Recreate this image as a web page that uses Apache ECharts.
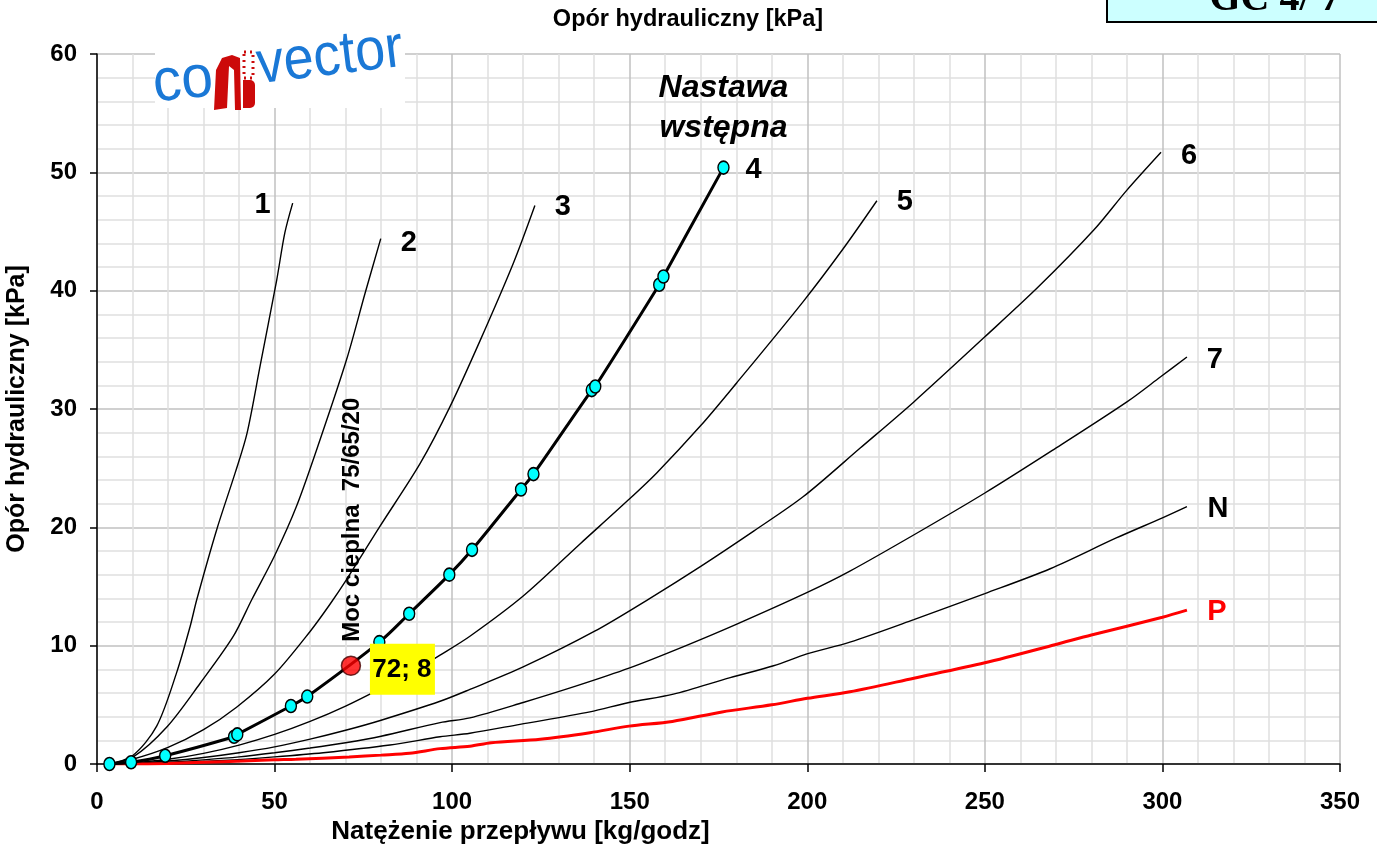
<!DOCTYPE html>
<html><head><meta charset="utf-8">
<script src="https://cdn.jsdelivr.net/npm/echarts@6/dist/echarts.min.js"></script>
<style>html,body{margin:0;padding:0;background:#fff}#c{width:1377px;height:855px}</style>
</head><body><div id="c"></div>
<script>
// ---- data ----
const xTicks = [0, 50, 100, 150, 200, 250, 300, 350];
const yTicks = [0, 10, 20, 30, 40, 50, 60];
const seriesNames = ['1', '2', '3', '4', '5', '6', '7', 'N', 'P'];
const curve1 = [[3,0],[10,0.7],[16.8,3.2],[22.4,7.7],[26.2,11.6],[28.1,13.9],[33.7,19.8],[38.9,24.6],[42.2,27.9],[45.9,33.6],[50.6,40.9],[52.9,44.9],[55.1,47.4]];
const curve2 = [[3,0],[10.2,0.6],[19.6,3.1],[29,6.8],[38.4,10.8],[43.6,13.9],[50,17.6],[56.2,21.8],[62.8,27.4],[70.3,34.2],[75.5,39.8],[79.9,44.4]];
const curve3 = [[3,0],[10,0.4],[20,1.4],[30,2.9],[39.3,4.8],[50,7.6],[60,11.2],[65.6,13.5],[70.3,15.6],[79.7,20.1],[91,25.4],[99.4,30.2],[107.9,35.8],[117.2,42.3],[123.3,47.2]];
const curve4 = [[3.5,0],[9.6,0.15],[19.2,0.7],[38.6,2.3],[39.5,2.5],[54.6,4.9],[59.2,5.7],[79.5,10.3],[87.9,12.7],[99.2,16.0],[105.6,18.1],[119.4,23.2],[122.9,24.5],[139.3,31.6],[140.3,31.9],[158.3,40.5],[159.5,41.2],[176.4,50.4]];
const curve5 = [[3,0],[10,0.1],[20,0.4],[30,0.9],[40,1.6],[50,2.5],[60,3.6],[70,4.9],[80,6.4],[90,8.0],[96.6,9.2],[105,10.8],[120,14.2],[136,18.6],[149.2,22.2],[157.6,24.6],[170,28.6],[180.1,32.2],[198.9,39.1],[210,43.5],[219.6,47.6]];
const curve6 = [[3,0],[10,0.05],[20,0.25],[30,0.55],[40,0.95],[50,1.45],[60,2.1],[70,2.85],[80,3.7],[96.6,5.3],[105,6.3],[120,8.2],[140,11.2],[155.7,14.0],[170,16.7],[185,19.7],[198.9,22.6],[214.9,26.7],[230,30.6],[250,36.1],[265,40.3],[280.6,45.1],[290,48.5],[299.6,51.7]];
const curve7 = [[3,0],[10,0.05],[20,0.15],[30,0.35],[40,0.6],[50,0.95],[60,1.35],[70,1.8],[80,2.35],[96.6,3.5],[105,3.9],[120,5.2],[135,6.6],[149.8,8.1],[165,9.9],[180,11.8],[200,14.5],[212,16.3],[230.8,19.5],[250,22.9],[269,26.5],[290,30.6],[299.4,32.7],[306.9,34.4]];
const curveN = [[3,0],[10,0.03],[20,0.1],[35.5,0.3],[50,0.6],[63.7,0.95],[82.5,1.6],[96.6,2.3],[105,2.6],[119.1,3.35],[138.8,4.4],[149.8,5.2],[162.3,5.9],[178.3,7.3],[190.5,8.3],[199.9,9.3],[212,10.3],[230,12.2],[250,14.4],[268.4,16.5],[287,19.1],[300,20.8],[306.9,21.75]];
const curveP = [[3,0],[10,0],[20,0.05],[35.5,0.2],[50,0.35],[56,0.4],[71,0.6],[80,0.75],[88,0.9],[96.6,1.3],[105,1.5],[111,1.8],[124.8,2.1],[138.8,2.65],[149.8,3.2],[162,3.6],[176,4.4],[190,5.0],[200,5.55],[212,6.1],[230,7.25],[250,8.55],[270,10.1],[280,10.9],[300,12.4],[306.9,13.0]];
const designPoint = [71.5, 8.3];
const designLabel = '72; 8';
const designText = 'Moc cieplna  75/65/20';
const presetText = ['Nastawa', 'wstępna'];

const FONT = '"Liberation Sans", Arial, sans-serif';
const curves = [curve1, curve2, curve3, curve4, curve5, curve6, curve7, curveN, curveP];

const series = curves.map((d, i) => {
  const name = seriesNames[i];
  const isP = name === 'P', is4 = name === '4';
  return {
    name, type: 'line', data: d, smooth: 0.3,
    showSymbol: is4, symbol: 'circle', symbolSize: [11, 13],
    itemStyle: {color: '#00ffff', borderColor: '#000', borderWidth: 1.5},
    lineStyle: {color: isP ? '#ff0000' : '#000', width: (isP || is4) ? 3 : 1.4},
    z: is4 ? 5 : 3, silent: true, animation: false
  };
});
series.push({
  name: 'design', type: 'scatter', data: [designPoint], symbolSize: 19,
  itemStyle: {color: '#ff0000', borderColor: '#400', borderWidth: 1.5}, z: 6, animation: false
});

const chart = echarts.init(document.getElementById('c'));
const option = {
  animation: false,
  grid: {left: 97, right: 37, top: 54, bottom: 91, containLabel: false, outerBoundsMode: 'none'},
  xAxis: {
    type: 'value', min: xTicks[0], max: xTicks[xTicks.length - 1], interval: 50,
    axisLine: {show: true, onZero: false, lineStyle: {color: '#000', width: 1.5}},
    axisTick: {show: true, length: 8, lineStyle: {color: '#000', width: 1.5}},
    minorTick: {show: false, splitNumber: 5},
    axisLabel: {color: '#000', fontFamily: FONT, fontWeight: 'bold', fontSize: 24, margin: 26},
    splitLine: {show: true, lineStyle: {color: '#c0c0c0', width: 1.5}},
    minorSplitLine: {show: true, lineStyle: {color: '#e0e0e0', width: 1.5}},
    name: 'Natężenie przepływu [kg/godz]', nameLocation: 'middle', nameGap: 54,
    nameTextStyle: {color: '#000', fontFamily: FONT, fontWeight: 'bold', fontSize: 26, padding: [0, 396, 0, 0]}
  },
  yAxis: {
    type: 'value', min: yTicks[0], max: yTicks[yTicks.length - 1], interval: 10,
    axisLine: {show: true, onZero: false, lineStyle: {color: '#000', width: 1.5}},
    axisTick: {show: true, length: 7, lineStyle: {color: '#000', width: 1.5}},
    minorTick: {show: false, splitNumber: 5},
    axisLabel: {color: '#000', fontFamily: FONT, fontWeight: 'bold', fontSize: 24, margin: 20},
    splitLine: {show: true, lineStyle: {color: '#c0c0c0', width: 1.5}},
    minorSplitLine: {show: true, lineStyle: {color: '#e0e0e0', width: 1.5}},
    name: 'Opór hydrauliczny [kPa]', nameLocation: 'middle', nameGap: 67, nameRotate: 90,
    nameTextStyle: {color: '#000', fontFamily: FONT, fontWeight: 'bold', fontSize: 25}
  },
  series
};
chart.setOption(option);

// ---- annotations positioned from data points ----
const labelOffsets = {'1': [-30, 2], '2': [28, 4], '3': [28, 2], '4': [30, 2], '5': [28, 1], '6': [28, 4], '7': [28, 3], 'N': [31, 2], 'P': [30, 2]};
const g = [];
curves.forEach((d, i) => {
  const name = seriesNames[i];
  const p = chart.convertToPixel({gridIndex: 0}, d[d.length - 1]);
  const o = labelOffsets[name];
  g.push({type: 'text', x: p[0] + o[0], y: p[1] + o[1], z: 20,
    style: {text: name, fill: name === 'P' ? '#ff0000' : '#000', font: 'bold 29px ' + FONT, align: 'center', verticalAlign: 'middle'}});
});
const end4 = chart.convertToPixel({gridIndex: 0}, curve4[curve4.length - 1]);
g.push({type: 'text', x: end4[0], y: end4[1] - 79, z: 20,
  style: {text: presetText[0], fill: '#000', font: 'italic bold 32px ' + FONT, align: 'center', verticalAlign: 'middle'}});
g.push({type: 'text', x: end4[0], y: end4[1] - 39, z: 20,
  style: {text: presetText[1], fill: '#000', font: 'italic bold 32px ' + FONT, align: 'center', verticalAlign: 'middle'}});
const dp = chart.convertToPixel({gridIndex: 0}, designPoint);
g.push({type: 'rect', shape: {x: dp[0] + 19, y: dp[1] - 22, width: 65, height: 51}, style: {fill: '#ffff00'}, z: 18});
g.push({type: 'text', x: dp[0] + 51, y: dp[1] + 4, z: 20,
  style: {text: designLabel, fill: '#000', font: 'bold 26px ' + FONT, align: 'center', verticalAlign: 'middle'}});
g.push({type: 'text', x: dp[0] + 1, y: dp[1] - 146, rotation: Math.PI / 2, z: 20,
  style: {text: designText, fill: '#000', font: 'bold 24px ' + FONT, align: 'center', verticalAlign: 'middle'}});

// title
g.push({type: 'text', x: 688, y: 20, z: 20,
  style: {text: 'Opór hydrauliczny [kPa]', fill: '#000', font: 'bold 23.5px ' + FONT, align: 'center', verticalAlign: 'middle'}});
// GC box
g.push({type: 'rect', shape: {x: 1107, y: -40, width: 300, height: 62}, style: {fill: '#ccffff', stroke: '#000', lineWidth: 2}, z: 20});
g.push({type: 'text', x: 1275, y: 0, z: 21,
  style: {text: 'GC 4/ 7', fill: '#000', font: 'bold 40px "Liberation Serif", "Times New Roman", serif', align: 'center', verticalAlign: 'middle'}});
// logo
g.push({type: 'rect', shape: {x: 155, y: 22, width: 250, height: 86}, style: {fill: '#fff'}, z: 15});
g.push({type: 'text', x: 183, y: 82, rotation: 0.1, scaleX: 0.95, z: 16,
  style: {text: 'co', fill: '#1a78d6', font: '60px "Liberation Sans", Arial, sans-serif', align: 'center', verticalAlign: 'middle'}});
g.push({type: 'polygon', shape: {points: [[214, 110], [216, 70], [222, 58], [232, 55], [240, 58], [241, 110], [235, 110], [234, 70], [229, 66], [227, 108]]}, style: {fill: '#cc0a0a'}, z: 16});
g.push({type: 'rect', shape: {x: 243, y: 80, width: 12, height: 28, r: [0, 5, 5, 0]}, style: {fill: '#cc0a0a'}, z: 16});
g.push({type: 'rect', shape: {x: 244, y: 52, width: 9, height: 26}, style: {fill: 'none', stroke: '#cc0a0a', lineWidth: 3, lineDash: [2, 4]}, z: 16});
g.push({type: 'text', x: 330, y: 58, rotation: 0.12, scaleX: 0.9, z: 16,
  style: {text: 'vector', fill: '#1a78d6', font: '60px "Liberation Sans", Arial, sans-serif', align: 'center', verticalAlign: 'middle'}});
chart.setOption({graphic: {elements: g}});
</script></body></html>
